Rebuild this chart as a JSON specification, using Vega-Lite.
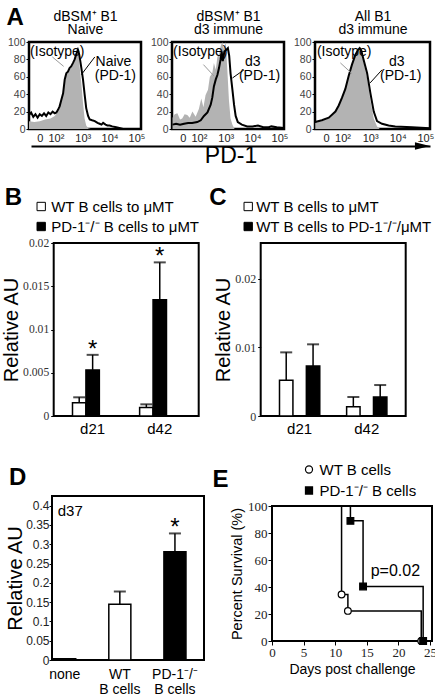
{
"$schema": "https://vega.github.io/schema/vega-lite/v6.json",
"padding": {"left": 0, "top": 3, "right": 0, "bottom": 0},
"background": "white",
"config": {
  "font": "Liberation Sans",
  "view": {"stroke": "black", "strokeWidth": 2},
  "axis": {"grid": false, "domain": false, "labelFont": "Liberation Sans", "titleFont": "Liberation Sans", "titleFontWeight": "normal", "titleColor": "black", "labelColor": "#222", "tickColor": "black", "labelFlush": false, "labelOverlap": false},
  "title": {"font": "Liberation Sans", "fontWeight": "normal", "color": "black"},
  "legend": {"labelFont": "Liberation Sans", "labelColor": "black", "labelLimit": 300},
  "text": {"font": "Liberation Sans", "color": "black"}
},
"datasets": {
  "hist": [
    {"p":1,"s":"pd1","x":1.0,"y":16},{"p":1,"s":"pd1","x":1.08,"y":19},{"p":1,"s":"pd1","x":1.16,"y":14},{"p":1,"s":"pd1","x":1.24,"y":17},{"p":1,"s":"pd1","x":1.32,"y":13},{"p":1,"s":"pd1","x":1.4,"y":17},{"p":1,"s":"pd1","x":1.48,"y":15},{"p":1,"s":"pd1","x":1.56,"y":18},{"p":1,"s":"pd1","x":1.64,"y":15},{"p":1,"s":"pd1","x":1.72,"y":19},{"p":1,"s":"pd1","x":1.8,"y":17},{"p":1,"s":"pd1","x":1.88,"y":20},{"p":1,"s":"pd1","x":1.96,"y":18},{"p":1,"s":"pd1","x":2.02,"y":19},{"p":1,"s":"pd1","x":2.08,"y":22},{"p":1,"s":"pd1","x":2.14,"y":26},{"p":1,"s":"pd1","x":2.2,"y":33},{"p":1,"s":"pd1","x":2.27,"y":41},{"p":1,"s":"pd1","x":2.33,"y":57},{"p":1,"s":"pd1","x":2.39,"y":64},{"p":1,"s":"pd1","x":2.45,"y":66},{"p":1,"s":"pd1","x":2.51,"y":70},{"p":1,"s":"pd1","x":2.57,"y":72},{"p":1,"s":"pd1","x":2.64,"y":76},{"p":1,"s":"pd1","x":2.7,"y":80},{"p":1,"s":"pd1","x":2.76,"y":86},{"p":1,"s":"pd1","x":2.82,"y":91},{"p":1,"s":"pd1","x":2.86,"y":87},{"p":1,"s":"pd1","x":2.89,"y":82},{"p":1,"s":"pd1","x":2.95,"y":70},{"p":1,"s":"pd1","x":3.01,"y":57},{"p":1,"s":"pd1","x":3.07,"y":40},{"p":1,"s":"pd1","x":3.13,"y":24},{"p":1,"s":"pd1","x":3.2,"y":15},{"p":1,"s":"pd1","x":3.26,"y":11},{"p":1,"s":"pd1","x":3.35,"y":10},{"p":1,"s":"pd1","x":3.45,"y":9},{"p":1,"s":"pd1","x":3.55,"y":7},{"p":1,"s":"pd1","x":3.63,"y":6},{"p":1,"s":"pd1","x":3.7,"y":5},{"p":1,"s":"pd1","x":3.76,"y":7},{"p":1,"s":"pd1","x":3.85,"y":5},{"p":1,"s":"pd1","x":3.92,"y":4},{"p":1,"s":"pd1","x":4.0,"y":4},{"p":1,"s":"pd1","x":4.1,"y":3},{"p":1,"s":"pd1","x":4.25,"y":2},{"p":1,"s":"pd1","x":4.4,"y":1},{"p":1,"s":"pd1","x":4.5,"y":0},{"p":1,"s":"pd1","x":5.17,"y":0},
    {"p":1,"s":"iso","x":1.0,"y":9},{"p":1,"s":"iso","x":1.2,"y":8},{"p":1,"s":"iso","x":1.4,"y":9},{"p":1,"s":"iso","x":1.6,"y":11},{"p":1,"s":"iso","x":1.8,"y":12},{"p":1,"s":"iso","x":1.96,"y":15},{"p":1,"s":"iso","x":2.08,"y":20},{"p":1,"s":"iso","x":2.14,"y":24},{"p":1,"s":"iso","x":2.2,"y":31},{"p":1,"s":"iso","x":2.27,"y":40},{"p":1,"s":"iso","x":2.33,"y":54},{"p":1,"s":"iso","x":2.39,"y":62},{"p":1,"s":"iso","x":2.45,"y":64},{"p":1,"s":"iso","x":2.51,"y":68},{"p":1,"s":"iso","x":2.57,"y":70},{"p":1,"s":"iso","x":2.64,"y":74},{"p":1,"s":"iso","x":2.7,"y":78},{"p":1,"s":"iso","x":2.76,"y":84},{"p":1,"s":"iso","x":2.82,"y":90},{"p":1,"s":"iso","x":2.86,"y":82},{"p":1,"s":"iso","x":2.89,"y":70},{"p":1,"s":"iso","x":2.95,"y":52},{"p":1,"s":"iso","x":3.01,"y":30},{"p":1,"s":"iso","x":3.07,"y":12},{"p":1,"s":"iso","x":3.13,"y":4},{"p":1,"s":"iso","x":3.2,"y":1},{"p":1,"s":"iso","x":3.3,"y":0},{"p":1,"s":"iso","x":5.17,"y":0},
    {"p":2,"s":"pd1","x":1.02,"y":5},{"p":2,"s":"pd1","x":1.15,"y":6},{"p":2,"s":"pd1","x":1.3,"y":5},{"p":2,"s":"pd1","x":1.45,"y":6},{"p":2,"s":"pd1","x":1.6,"y":7},{"p":2,"s":"pd1","x":1.75,"y":7},{"p":2,"s":"pd1","x":1.94,"y":8},{"p":2,"s":"pd1","x":2.07,"y":10},{"p":2,"s":"pd1","x":2.19,"y":15},{"p":2,"s":"pd1","x":2.32,"y":19},{"p":2,"s":"pd1","x":2.44,"y":28},{"p":2,"s":"pd1","x":2.5,"y":36},{"p":2,"s":"pd1","x":2.56,"y":49},{"p":2,"s":"pd1","x":2.63,"y":57},{"p":2,"s":"pd1","x":2.69,"y":62},{"p":2,"s":"pd1","x":2.75,"y":70},{"p":2,"s":"pd1","x":2.81,"y":80},{"p":2,"s":"pd1","x":2.85,"y":89},{"p":2,"s":"pd1","x":2.89,"y":78},{"p":2,"s":"pd1","x":2.95,"y":89},{"p":2,"s":"pd1","x":3.02,"y":91},{"p":2,"s":"pd1","x":3.08,"y":93},{"p":2,"s":"pd1","x":3.13,"y":84},{"p":2,"s":"pd1","x":3.18,"y":64},{"p":2,"s":"pd1","x":3.25,"y":45},{"p":2,"s":"pd1","x":3.31,"y":28},{"p":2,"s":"pd1","x":3.37,"y":15},{"p":2,"s":"pd1","x":3.45,"y":8},{"p":2,"s":"pd1","x":3.6,"y":5},{"p":2,"s":"pd1","x":3.8,"y":3},{"p":2,"s":"pd1","x":4.0,"y":3},{"p":2,"s":"pd1","x":4.2,"y":4},{"p":2,"s":"pd1","x":4.4,"y":2},{"p":2,"s":"pd1","x":4.6,"y":2},{"p":2,"s":"pd1","x":4.7,"y":3},{"p":2,"s":"pd1","x":4.9,"y":2},{"p":2,"s":"pd1","x":5.17,"y":1},
    {"p":2,"s":"iso","x":1.02,"y":13},{"p":2,"s":"iso","x":1.1,"y":17},{"p":2,"s":"iso","x":1.2,"y":18},{"p":2,"s":"iso","x":1.3,"y":11},{"p":2,"s":"iso","x":1.38,"y":12},{"p":2,"s":"iso","x":1.47,"y":17},{"p":2,"s":"iso","x":1.57,"y":16},{"p":2,"s":"iso","x":1.66,"y":13},{"p":2,"s":"iso","x":1.76,"y":20},{"p":2,"s":"iso","x":1.88,"y":14},{"p":2,"s":"iso","x":2.0,"y":23},{"p":2,"s":"iso","x":2.09,"y":35},{"p":2,"s":"iso","x":2.17,"y":25},{"p":2,"s":"iso","x":2.25,"y":39},{"p":2,"s":"iso","x":2.34,"y":45},{"p":2,"s":"iso","x":2.41,"y":60},{"p":2,"s":"iso","x":2.5,"y":64},{"p":2,"s":"iso","x":2.56,"y":76},{"p":2,"s":"iso","x":2.63,"y":68},{"p":2,"s":"iso","x":2.69,"y":83},{"p":2,"s":"iso","x":2.75,"y":85},{"p":2,"s":"iso","x":2.81,"y":95},{"p":2,"s":"iso","x":2.87,"y":100},{"p":2,"s":"iso","x":2.94,"y":91},{"p":2,"s":"iso","x":3.0,"y":100},{"p":2,"s":"iso","x":3.06,"y":68},{"p":2,"s":"iso","x":3.12,"y":33},{"p":2,"s":"iso","x":3.18,"y":12},{"p":2,"s":"iso","x":3.25,"y":5},{"p":2,"s":"iso","x":3.33,"y":0},{"p":2,"s":"iso","x":5.17,"y":0},
    {"p":3,"s":"pd1","x":1.01,"y":8},{"p":3,"s":"pd1","x":1.25,"y":10},{"p":3,"s":"pd1","x":1.5,"y":13},{"p":3,"s":"pd1","x":1.74,"y":20},{"p":3,"s":"pd1","x":1.86,"y":27},{"p":3,"s":"pd1","x":1.98,"y":36},{"p":3,"s":"pd1","x":2.1,"y":46},{"p":3,"s":"pd1","x":2.22,"y":61},{"p":3,"s":"pd1","x":2.34,"y":74},{"p":3,"s":"pd1","x":2.46,"y":85},{"p":3,"s":"pd1","x":2.56,"y":91},{"p":3,"s":"pd1","x":2.62,"y":93},{"p":3,"s":"pd1","x":2.68,"y":90},{"p":3,"s":"pd1","x":2.76,"y":80},{"p":3,"s":"pd1","x":2.89,"y":64},{"p":3,"s":"pd1","x":3.01,"y":41},{"p":3,"s":"pd1","x":3.13,"y":20},{"p":3,"s":"pd1","x":3.25,"y":9},{"p":3,"s":"pd1","x":3.43,"y":6},{"p":3,"s":"pd1","x":3.67,"y":4},{"p":3,"s":"pd1","x":3.91,"y":3},{"p":3,"s":"pd1","x":4.52,"y":2},{"p":3,"s":"pd1","x":5.17,"y":1},
    {"p":3,"s":"iso","x":1.01,"y":7},{"p":3,"s":"iso","x":1.25,"y":9},{"p":3,"s":"iso","x":1.5,"y":12},{"p":3,"s":"iso","x":1.74,"y":19},{"p":3,"s":"iso","x":1.86,"y":26},{"p":3,"s":"iso","x":1.98,"y":35},{"p":3,"s":"iso","x":2.1,"y":45},{"p":3,"s":"iso","x":2.22,"y":60},{"p":3,"s":"iso","x":2.34,"y":73},{"p":3,"s":"iso","x":2.46,"y":84},{"p":3,"s":"iso","x":2.56,"y":90},{"p":3,"s":"iso","x":2.62,"y":92},{"p":3,"s":"iso","x":2.68,"y":88},{"p":3,"s":"iso","x":2.76,"y":77},{"p":3,"s":"iso","x":2.89,"y":58},{"p":3,"s":"iso","x":3.01,"y":33},{"p":3,"s":"iso","x":3.13,"y":12},{"p":3,"s":"iso","x":3.25,"y":3},{"p":3,"s":"iso","x":3.35,"y":0},{"p":3,"s":"iso","x":5.17,"y":0}
  ],
  "hlab": [
    {"p":1,"t":"(Isotype)","x":1.04,"y":89},{"p":1,"t":"Naive","x":3.48,"y":77},{"p":1,"t":"(PD-1)","x":3.45,"y":61},
    {"p":2,"t":"(Isotype)","x":1.04,"y":89},{"p":2,"t":"d3","x":3.72,"y":77},{"p":2,"t":"(PD-1)","x":3.49,"y":61},
    {"p":3,"t":"(Isotype)","x":1.07,"y":89},{"p":3,"t":"d3","x":3.68,"y":77},{"p":3,"t":"(PD-1)","x":3.36,"y":61}
  ],
  "hptr": [
    {"p":1,"c":"#9a9a9a","x":1.87,"y":82.8,"x2":2.29,"y2":72},{"p":1,"c":"black","x":3.45,"y":82.8,"x2":2.95,"y2":62.5},
    {"p":2,"c":"#9a9a9a","x":2.17,"y":74,"x2":2.56,"y2":61},{"p":2,"c":"black","x":3.68,"y":68,"x2":3.25,"y2":58.6},
    {"p":3,"c":"#9a9a9a","x":1.92,"y":76,"x2":2.34,"y2":63.7},{"p":3,"c":"black","x":3.43,"y":68,"x2":3.0,"y2":53}
  ],
  "bdat": [
    {"day":"d21","grp":"WT B cells to μMT","v":0.00154,"u":0.00216,"star":false},
    {"day":"d21","grp":"PD-1⁻/⁻ B cells to μMT","v":0.00533,"u":0.00707,"star":true},
    {"day":"d42","grp":"WT B cells to μMT","v":0.00097,"u":0.00135,"star":false},
    {"day":"d42","grp":"PD-1⁻/⁻ B cells to μMT","v":0.01344,"u":0.01776,"star":true}
  ],
  "cdat": [
    {"day":"d21","grp":"WT B cells to μMT","v":0.0052,"u":0.00927},
    {"day":"d21","grp":"WT B cells to PD-1⁻/⁻/μMT","v":0.00728,"u":0.01044},
    {"day":"d42","grp":"WT B cells to μMT","v":0.00136,"u":0.00277},
    {"day":"d42","grp":"WT B cells to PD-1⁻/⁻/μMT","v":0.00277,"u":0.00451}
  ],
  "ddat": [
    {"g":"none","v":0.003,"u":null,"star":false},
    {"g":"WT","v":0.1446,"u":0.1775,"star":false},
    {"g":"PD","v":0.2805,"u":0.328,"star":true}
  ],
  "surv": [
    {"g":"WT B cells","day":0,"pct":100},{"g":"WT B cells","day":11,"pct":34.5},{"g":"WT B cells","day":12,"pct":22.3},{"g":"WT B cells","day":23.6,"pct":0},
    {"g":"PD-1⁻/⁻ B cells","day":0,"pct":100},{"g":"PD-1⁻/⁻ B cells","day":12.4,"pct":89},{"g":"PD-1⁻/⁻ B cells","day":14.4,"pct":40.4},{"g":"PD-1⁻/⁻ B cells","day":23.9,"pct":0}
  ]
},
"resolve": {"scale": {"fill": "independent", "shape": "independent"}, "legend": {"fill": "independent", "shape": "independent"}},
"spacing": 24,
"vconcat": [
  {"spacing": 17,
   "resolve": {"scale": {"fill": "independent", "shape": "independent"}, "legend": {"fill": "independent", "shape": "independent"}},
   "vconcat": [
    {"spacing": -3.75, "vconcat": [
      {"spacing": -2, "hconcat": [
        {"width": 1, "height": 1, "view": {"stroke": null}, "data": {"values": []}, "mark": "point"},
        {"spacing": 2, "hconcat": [
          {"width": 112, "height": 87, "view": {"stroke": "black", "strokeWidth": 2.5},
           "encoding": {
             "x": {"field": "x", "type": "quantitative", "scale": {"domain": [1, 5.17], "nice": false, "zero": false}, "axis": {"title": "A", "titleX": -23, "titleY": -105, "titleAngle": 0, "titleAlign": "left", "titleBaseline": "alphabetic", "titleFontSize": 24, "titleFontWeight": "bold", "values": [1.4, 2, 3, 4, 5], "ticks": false, "labelFontSize": 11, "labelPadding": 3, "labelExpr": "datum.value < 1.5 ? '0' : datum.value == 2 ? '10²' : datum.value == 3 ? '10³' : datum.value == 4 ? '10⁴' : '10⁵'"}},
             "y": {"field": "y", "type": "quantitative", "scale": {"domain": [0, 100], "nice": false}, "axis": {"title": ["dBSM⁺ B1", "Naive"], "titleX": 56, "titleY": -32.7, "titleAngle": 0, "titleAlign": "center", "titleBaseline": "top", "titleFontSize": 14, "titleLineHeight": 13.4, "values": [0, 20, 40, 60, 80, 100], "tickSize": 3, "labelFontSize": 10.5, "labelPadding": 1, "labelColor": "#444"}}
           },
           "layer": [
             {"data": {"name": "hist"}, "transform": [{"filter": "datum.p == 1 && datum.s == 'iso'"}], "mark": {"type": "area", "color": "#b3b3b3", "clip": true}},
             {"data": {"name": "hist"}, "transform": [{"filter": "datum.p == 1 && datum.s == 'pd1'"}], "mark": {"type": "line", "color": "black", "strokeWidth": 2, "clip": true}},
             {"data": {"name": "hptr"}, "transform": [{"filter": "datum.p == 1"}], "mark": {"type": "rule", "strokeWidth": 1}, "encoding": {"x2": {"field": "x2"}, "y2": {"field": "y2"}, "color": {"field": "c", "type": "nominal", "scale": null}}},
             {"data": {"name": "hlab"}, "transform": [{"filter": "datum.p == 1"}], "mark": {"type": "text", "align": "left", "baseline": "middle", "fontSize": 14}, "encoding": {"text": {"field": "t"}}}
           ]},
          {"width": 112, "height": 87, "view": {"stroke": "black", "strokeWidth": 2.5},
           "encoding": {
             "x": {"field": "x", "type": "quantitative", "scale": {"domain": [1, 5.17], "nice": false, "zero": false}, "axis": {"title": null, "values": [1.4, 2, 3, 4, 5], "ticks": false, "labelFontSize": 11, "labelPadding": 3, "labelExpr": "datum.value < 1.5 ? '0' : datum.value == 2 ? '10²' : datum.value == 3 ? '10³' : datum.value == 4 ? '10⁴' : '10⁵'"}},
             "y": {"field": "y", "type": "quantitative", "scale": {"domain": [0, 100], "nice": false}, "axis": {"title": ["dBSM⁺ B1", "d3 immune"], "titleX": 56, "titleY": -32.7, "titleAngle": 0, "titleAlign": "center", "titleBaseline": "top", "titleFontSize": 14, "titleLineHeight": 13.4, "values": [0, 20, 40, 60, 80, 100], "tickSize": 3, "labelFontSize": 10.5, "labelPadding": 1, "labelColor": "#444"}}
           },
           "layer": [
             {"data": {"name": "hist"}, "transform": [{"filter": "datum.p == 2 && datum.s == 'iso'"}], "mark": {"type": "area", "color": "#b3b3b3", "clip": true}},
             {"data": {"name": "hist"}, "transform": [{"filter": "datum.p == 2 && datum.s == 'pd1'"}], "mark": {"type": "line", "color": "black", "strokeWidth": 2, "clip": true}},
             {"data": {"name": "hptr"}, "transform": [{"filter": "datum.p == 2"}], "mark": {"type": "rule", "strokeWidth": 1}, "encoding": {"x2": {"field": "x2"}, "y2": {"field": "y2"}, "color": {"field": "c", "type": "nominal", "scale": null}}},
             {"data": {"name": "hlab"}, "transform": [{"filter": "datum.p == 2"}], "mark": {"type": "text", "align": "left", "baseline": "middle", "fontSize": 14}, "encoding": {"text": {"field": "t"}}}
           ]},
          {"width": 115, "height": 87, "view": {"stroke": "black", "strokeWidth": 2.5},
           "encoding": {
             "x": {"field": "x", "type": "quantitative", "scale": {"domain": [1, 5.17], "nice": false, "zero": false}, "axis": {"title": null, "values": [1.4, 2, 3, 4, 5], "ticks": false, "labelFontSize": 11, "labelPadding": 3, "labelExpr": "datum.value < 1.5 ? '0' : datum.value == 2 ? '10²' : datum.value == 3 ? '10³' : datum.value == 4 ? '10⁴' : '10⁵'"}},
             "y": {"field": "y", "type": "quantitative", "scale": {"domain": [0, 100], "nice": false}, "axis": {"title": ["All B1", "d3 immune"], "titleX": 57.5, "titleY": -32.7, "titleAngle": 0, "titleAlign": "center", "titleBaseline": "top", "titleFontSize": 14, "titleLineHeight": 13.4, "values": [0, 20, 40, 60, 80, 100], "tickSize": 3, "labelFontSize": 10.5, "labelPadding": 1, "labelColor": "#444"}}
           },
           "layer": [
             {"data": {"name": "hist"}, "transform": [{"filter": "datum.p == 3 && datum.s == 'iso'"}], "mark": {"type": "area", "color": "#b3b3b3", "clip": true}},
             {"data": {"name": "hist"}, "transform": [{"filter": "datum.p == 3 && datum.s == 'pd1'"}], "mark": {"type": "line", "color": "black", "strokeWidth": 2, "clip": true}},
             {"data": {"name": "hptr"}, "transform": [{"filter": "datum.p == 3"}], "mark": {"type": "rule", "strokeWidth": 1}, "encoding": {"x2": {"field": "x2"}, "y2": {"field": "y2"}, "color": {"field": "c", "type": "nominal", "scale": null}}},
             {"data": {"name": "hlab"}, "transform": [{"filter": "datum.p == 3"}], "mark": {"type": "text", "align": "left", "baseline": "middle", "fontSize": 14}, "encoding": {"text": {"field": "t"}}}
           ]}
        ]}
      ]},
      {"spacing": 25, "hconcat": [
        {"width": 1, "height": 1, "view": {"stroke": null}, "data": {"values": []}, "mark": "point"},
        {"width": 399, "height": 1, "view": {"stroke": null},
         "data": {"values": [{"x": 0.981, "y": 0}]},
         "mark": {"type": "point", "shape": "M-1,-0.5L1,0L-1,0.5Z", "filled": true, "color": "black", "size": 225, "opacity": 1},
         "encoding": {
           "x": {"field": "x", "type": "quantitative", "scale": {"domain": [0, 1]}, "axis": {"domain": true, "domainWidth": 2, "domainColor": "black", "ticks": false, "labels": false, "title": "PD-1", "titleFontSize": 23, "titlePadding": -2}},
           "y": {"field": "y", "type": "quantitative", "scale": {"domain": [0, 1]}, "axis": null}
         }}
      ]}
    ]},
    {"spacing": -6.3,
     "resolve": {"scale": {"fill": "independent", "shape": "independent"}, "legend": {"fill": "independent", "shape": "independent"}},
     "hconcat": [
      {"width": 1, "height": 1, "view": {"stroke": null}, "data": {"values": []}, "mark": "point"},
      {"spacing": 7,
       "resolve": {"scale": {"fill": "independent", "shape": "independent"}, "legend": {"fill": "independent", "shape": "independent"}},
       "hconcat": [
        {"width": 145, "height": 173,
         "data": {"name": "bdat"},
         "encoding": {
           "x": {"field": "day", "type": "nominal", "sort": ["d21", "d42"], "scale": {"paddingInner": 0.4, "paddingOuter": 0.28}, "axis": {"title": "B", "titleX": -49.5, "titleY": -212, "titleAngle": 0, "titleAlign": "left", "titleBaseline": "alphabetic", "titleFontSize": 24, "titleFontWeight": "bold", "labelAngle": 0, "ticks": false, "labelFontSize": 15, "labelColor": "black", "labelPadding": 5}},
           "xOffset": {"field": "grp", "type": "nominal", "sort": ["WT B cells to μMT", "PD-1⁻/⁻ B cells to μMT"], "scale": {"paddingInner": 0, "paddingOuter": 0}},
           "y": {"field": "v", "type": "quantitative", "scale": {"domain": [0, 0.02], "nice": false}, "axis": {"title": "Relative AU", "titleFontSize": 20, "titlePadding": 1, "values": [0, 0.005, 0.01, 0.015, 0.02], "format": "~g", "labelFont": "Liberation Sans Narrow", "labelFontSize": 11.6, "labelColor": "#333", "tickSize": 3, "labelPadding": 2}}
         },
         "layer": [
           {"mark": {"type": "rule", "color": "black", "strokeWidth": 1.5}, "encoding": {"y2": {"field": "u"}}},
           {"mark": {"type": "bar", "stroke": "black", "strokeWidth": 1.5},
            "encoding": {"fill": {"field": "grp", "type": "nominal", "scale": {"domain": ["WT B cells to μMT", "PD-1⁻/⁻ B cells to μMT"], "range": ["white", "black"]},
              "legend": {"title": null, "orient": "none", "legendX": -20, "legendY": -44, "symbolType": "square", "symbolSize": 70, "symbolStrokeColor": "black", "symbolStrokeWidth": 1, "labelFontSize": 15, "labelColor": "black", "labelOffset": 2.5, "rowPadding": 4, "direction": "vertical"}}}},
           {"mark": {"type": "tick", "color": "black", "thickness": 2, "size": 12}, "encoding": {"y": {"field": "u", "type": "quantitative"}}},
           {"transform": [{"filter": "datum.star"}], "mark": {"type": "text", "text": "*", "fontSize": 24, "baseline": "alphabetic", "dy": 2}, "encoding": {"y": {"field": "u", "type": "quantitative"}}}
         ]},
        {"width": 145, "height": 173,
         "data": {"name": "cdat"},
         "encoding": {
           "x": {"field": "day", "type": "nominal", "sort": ["d21", "d42"], "scale": {"paddingInner": 0.4, "paddingOuter": 0.28}, "axis": {"title": "C", "titleX": -52, "titleY": -212, "titleAngle": 0, "titleAlign": "left", "titleBaseline": "alphabetic", "titleFontSize": 24, "titleFontWeight": "bold", "labelAngle": 0, "ticks": false, "labelFontSize": 15, "labelColor": "black", "labelPadding": 5}},
           "xOffset": {"field": "grp", "type": "nominal", "sort": ["WT B cells to μMT", "WT B cells to PD-1⁻/⁻/μMT"], "scale": {"paddingInner": 0, "paddingOuter": 0}},
           "y": {"field": "v", "type": "quantitative", "scale": {"domain": [0, 0.0252], "nice": false}, "axis": {"title": "Relative AU", "titleFontSize": 20, "titlePadding": 1, "values": [0, 0.01, 0.02], "format": "~g", "labelFont": "Liberation Sans Narrow", "labelFontSize": 12, "labelColor": "#333", "tickSize": 3, "labelPadding": 2}}
         },
         "layer": [
           {"mark": {"type": "rule", "color": "black", "strokeWidth": 1.5}, "encoding": {"y2": {"field": "u"}}},
           {"mark": {"type": "bar", "stroke": "black", "strokeWidth": 1.5},
            "encoding": {"fill": {"field": "grp", "type": "nominal", "scale": {"domain": ["WT B cells to μMT", "WT B cells to PD-1⁻/⁻/μMT"], "range": ["white", "black"]},
              "legend": {"title": null, "orient": "none", "legendX": -20, "legendY": -44, "symbolType": "square", "symbolSize": 70, "symbolStrokeColor": "black", "symbolStrokeWidth": 1, "labelFontSize": 15, "labelColor": "black", "labelOffset": 0.5, "rowPadding": 4, "direction": "vertical"}}}},
           {"mark": {"type": "tick", "color": "black", "thickness": 2, "size": 12}, "encoding": {"y": {"field": "u", "type": "quantitative"}}}
         ]}
      ]}
    ]}
  ]},
  {"spacing": -2,
   "resolve": {"scale": {"fill": "independent", "shape": "independent"}, "legend": {"fill": "independent", "shape": "independent"}},
   "hconcat": [
    {"width": 1, "height": 1, "view": {"stroke": null}, "data": {"values": []}, "mark": "point"},
    {"spacing": 6,
     "resolve": {"scale": {"fill": "independent", "shape": "independent"}, "legend": {"fill": "independent", "shape": "independent"}},
     "hconcat": [
      {"width": 152, "height": 164,
       "data": {"name": "ddat"},
       "encoding": {
         "x": {"field": "g", "type": "nominal", "sort": ["none", "WT", "PD"], "scale": {"paddingInner": 0.6, "paddingOuter": 0.179, "align": 0.086}, "axis": {"title": "D", "titleX": -43.5, "titleY": -176, "titleAngle": 0, "titleAlign": "left", "titleBaseline": "alphabetic", "titleFontSize": 24, "titleFontWeight": "bold", "labelAngle": 0, "ticks": false, "labelFontSize": 14, "labelColor": "black", "labelPadding": 7, "labelLineHeight": 15, "labelExpr": "datum.value == 'none' ? 'none' : datum.value == 'WT' ? ['WT', 'B cells'] : ['PD-1⁻/⁻', 'B cells']"}},
         "y": {"field": "v", "type": "quantitative", "scale": {"domain": [0, 0.425], "nice": false}, "axis": {"title": "Relative AU", "titleFontSize": 20, "titlePadding": 0, "values": [0, 0.05, 0.1, 0.15, 0.2, 0.25, 0.3, 0.35, 0.4], "format": "~g", "labelFontSize": 12, "labelColor": "#222", "tickSize": 3, "labelPadding": 0}}
       },
       "layer": [
         {"transform": [{"filter": "datum.u != null"}], "mark": {"type": "rule", "color": "black", "strokeWidth": 1.5}, "encoding": {"y2": {"field": "u"}}},
         {"mark": {"type": "bar", "stroke": "black", "strokeWidth": 1.5}, "encoding": {"fill": {"field": "g", "type": "nominal", "scale": {"domain": ["none", "WT", "PD"], "range": ["black", "white", "black"]}, "legend": null}}},
         {"transform": [{"filter": "datum.u != null"}], "mark": {"type": "tick", "color": "black", "thickness": 2, "size": 12}, "encoding": {"y": {"field": "u", "type": "quantitative"}}},
         {"transform": [{"filter": "datum.star"}], "mark": {"type": "text", "text": "*", "fontSize": 24, "baseline": "alphabetic", "dy": 2}, "encoding": {"y": {"field": "u", "type": "quantitative"}}},
         {"data": {"values": [{"g": "none", "v": 0.387, "t": "d37"}]}, "mark": {"type": "text", "align": "left", "baseline": "middle", "fontSize": 15, "dx": -7}, "encoding": {"text": {"field": "t"}}}
       ]},
      {"spacing": -36,
       "resolve": {"scale": {"fill": "independent", "shape": "independent"}, "legend": {"fill": "independent", "shape": "independent"}},
       "vconcat": [
        {"width": 1, "height": 1, "view": {"stroke": null}, "data": {"values": []}, "mark": "point"},
        {"width": 160, "height": 135,
         "encoding": {
           "x": {"field": "day", "type": "quantitative", "scale": {"domain": [0, 25.3], "nice": false}, "axis": {"title": "Days post challenge", "titleFontSize": 14, "titlePadding": 3, "values": [0, 5, 10, 15, 20, 25], "labelFontSize": 13, "labelFont": "Liberation Sans Narrow", "labelColor": "#222", "tickSize": 4, "labelPadding": 1}},
           "y": {"field": "pct", "type": "quantitative", "scale": {"domain": [0, 100], "nice": false}, "axis": {"title": "Percent Survival (%)", "titleFontSize": 14.5, "titlePadding": 3, "values": [0, 20, 40, 60, 80, 100], "labelFontSize": 13, "labelFont": "Liberation Sans Narrow", "labelColor": "#222", "tickSize": 4, "labelPadding": 1}}
         },
         "layer": [
           {"data": {"name": "surv"}, "mark": {"type": "line", "interpolate": "step-after", "color": "black", "strokeWidth": 1.5}, "encoding": {"detail": {"field": "g", "type": "nominal"}}},
           {"data": {"name": "surv"}, "transform": [{"filter": "datum.day > 0"}], "mark": {"type": "point", "filled": true, "stroke": "black", "strokeWidth": 1.2, "opacity": 1, "size": 45},
            "encoding": {
              "stroke": {"value": "black"},
              "shape": {"field": "g", "type": "nominal", "scale": {"domain": ["WT B cells", "PD-1⁻/⁻ B cells"], "range": ["circle", "square"]}, "legend": {"title": "E", "titleOrient": "left", "titleAnchor": "middle", "titleBaseline": "middle", "titleFontSize": 24, "titleFontWeight": "bold", "titleColor": "black", "titlePadding": 72, "orient": "none", "legendX": -59.5, "legendY": -44, "labelFontSize": 15, "labelOffset": 3, "rowPadding": 5, "symbolStrokeColor": "black", "symbolStrokeWidth": 1.2, "symbolSize": 50, "symbolOpacity": 1, "encode": {"symbols": {"update": {"stroke": {"value": "black"}, "strokeWidth": {"value": 1.2}}}}}},
              "fill": {"field": "g", "type": "nominal", "scale": {"domain": ["WT B cells", "PD-1⁻/⁻ B cells"], "range": ["white", "black"]}, "legend": {"title": "E", "titleOrient": "left", "titleAnchor": "middle", "titleBaseline": "middle", "titleFontSize": 24, "titleFontWeight": "bold", "titleColor": "black", "titlePadding": 72, "orient": "none", "legendX": -59.5, "legendY": -44, "labelFontSize": 15, "labelOffset": 3, "rowPadding": 5, "symbolStrokeColor": "black", "symbolStrokeWidth": 1.2, "symbolSize": 50, "symbolOpacity": 1, "encode": {"symbols": {"update": {"stroke": {"value": "black"}, "strokeWidth": {"value": 1.2}}}}}}
            }},
           {"data": {"values": [{"day": 15.6, "pct": 51.6, "t": "p=0.02"}]}, "mark": {"type": "text", "align": "left", "baseline": "middle", "fontSize": 16}, "encoding": {"text": {"field": "t"}}}
         ]}
      ]}
    ]}
  ]}
]
}
